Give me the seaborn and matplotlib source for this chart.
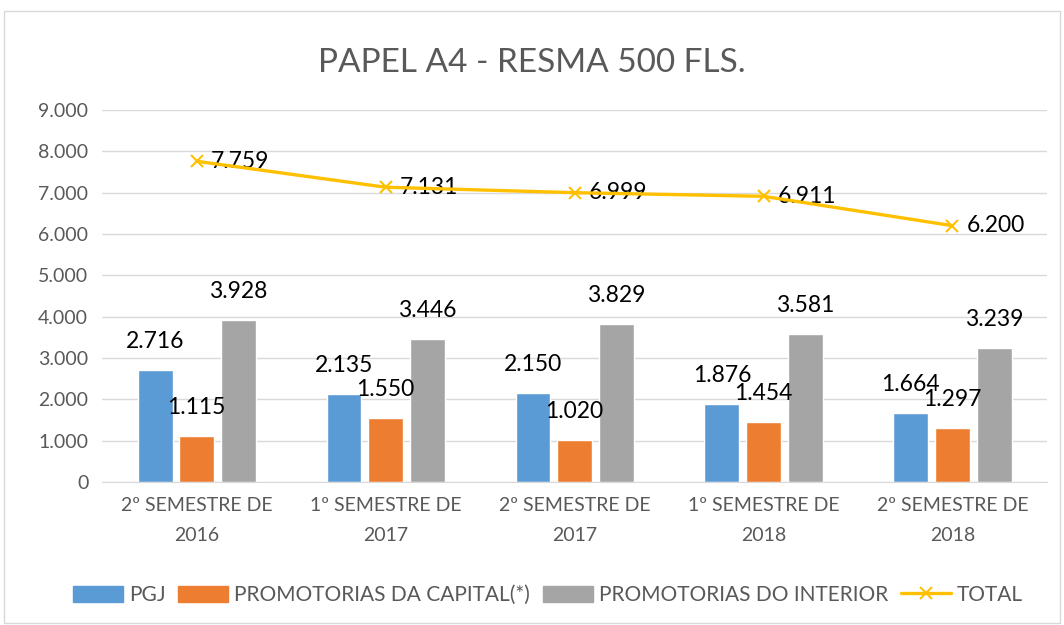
import pandas as pd
import numpy as np
import matplotlib.pyplot as plt
import seaborn as sns
from matplotlib.patches import Rectangle
from matplotlib.ticker import FuncFormatter

# Data
periodos = ["2º SEMESTRE DE\n2016", "1º SEMESTRE DE\n2017", "2º SEMESTRE DE\n2017",
            "1º SEMESTRE DE\n2018", "2º SEMESTRE DE\n2018"]
pgj = [2716, 2135, 2150, 1876, 1664]
capital = [1115, 1550, 1020, 1454, 1297]
interior = [3928, 3446, 3829, 3581, 3239]
total = [7759, 7131, 6999, 6911, 6200]

series_names = ["PGJ", "PROMOTORIAS DA CAPITAL(*)", "PROMOTORIAS DO INTERIOR"]
colors = ["#5B9BD5", "#ED7D31", "#A5A5A5"]
line_color = "#FFC000"

def fmt(v):
    return f"{int(v):,}".replace(",", ".")

df = pd.DataFrame({"Periodo": periodos, series_names[0]: pgj,
                   series_names[1]: capital, series_names[2]: interior})
df_long = df.melt(id_vars="Periodo", var_name="Serie", value_name="Valor")

sns.set_style("white")
plt.rcParams['font.family'] = ['Lato', 'DejaVu Sans']

fig = plt.figure(figsize=(10.64, 6.25), dpi=100)
ax = fig.add_axes([0.096, 0.229, 0.888, 0.595])

sns.barplot(data=df_long, x="Periodo", y="Valor", hue="Serie", palette=colors,
            width=0.66, gap=0.16, ax=ax, legend=False, saturation=1)

# data labels on bars
for cont in ax.containers:
    for bar in cont:
        h = bar.get_height()
        ax.annotate(fmt(h), (bar.get_x() + bar.get_width() / 2, h),
                    xytext=(0, 13), textcoords="offset points",
                    ha="center", va="bottom", fontsize=16.5, color="black")

# total line
x_pos = np.arange(len(periodos))
ax.plot(x_pos, total, color=line_color, lw=2.4, marker="x", markersize=9,
        markeredgewidth=1.5, zorder=5)
for xi, v in zip(x_pos, total):
    ax.annotate(fmt(v), (xi, v), xytext=(10, 0), textcoords="offset points",
                ha="left", va="center", fontsize=16.5, color="black")

ax.set_ylim(0, 9000)
ax.set_xlim(-0.5, 4.5)
ax.set_yticks(np.arange(0, 9001, 1000))
ax.yaxis.set_major_formatter(FuncFormatter(lambda v, p: fmt(v)))
ax.grid(axis="y", color="#D9D9D9", lw=1)
ax.set_axisbelow(True)
for s in ["top", "right", "left"]:
    ax.spines[s].set_visible(False)
ax.spines["bottom"].set_color("#D9D9D9")
ax.tick_params(axis="y", length=0, labelsize=14, colors="#595959", pad=10)
ax.tick_params(axis="x", length=0, labelsize=14, colors="#595959", pad=11)
for lbl in ax.get_xticklabels():
    lbl.set_linespacing(1.9)
ax.set_xlabel("")
ax.set_ylabel("")

fig.text(0.5, 0.9, "PAPEL A4 - RESMA 500 FLS.", ha="center", va="center",
         fontsize=24, color="#595959")

# legend
handles = [Rectangle((0, 0), 1, 1, color=c) for c in colors]
handles.append(plt.Line2D([0], [0], color=line_color, lw=2.4, marker="x",
                          markersize=9, markeredgewidth=1.5))
fig.legend(handles, series_names + ["TOTAL"], loc="center", bbox_to_anchor=(0.515, 0.048),
           ncol=4, frameon=False, fontsize=15, labelcolor="#595959",
           handlelength=2.4, handleheight=0.8, columnspacing=0.6, handletextpad=0.3)

# chart border
fig.patches.append(Rectangle((0.004, 0.004), 0.992, 0.978, transform=fig.transFigure,
                             fill=False, edgecolor="#D9D9D9", lw=1))

fig.savefig("out.png", dpi=100)
